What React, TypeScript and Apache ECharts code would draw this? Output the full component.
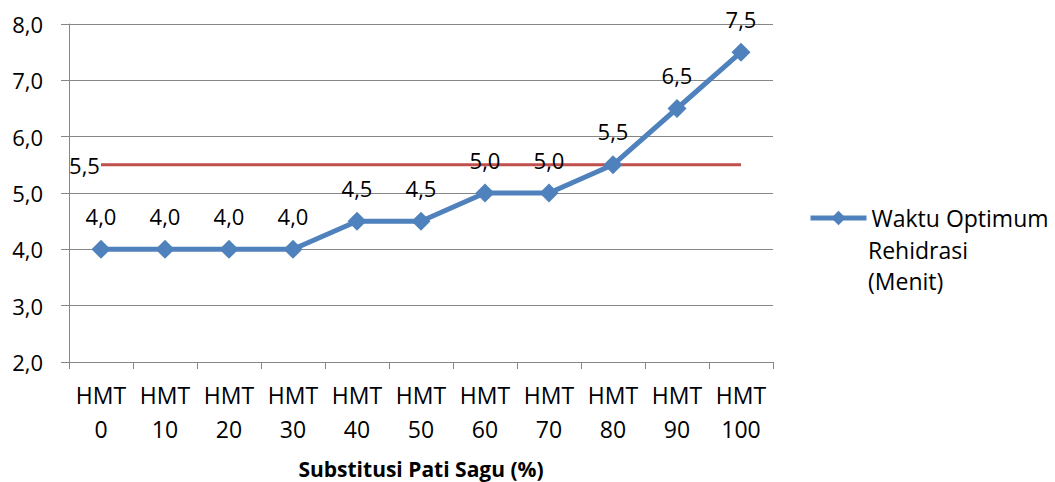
import React, { useEffect, useRef } from "react";
import * as echarts from "echarts";

const categories = ["HMT\n0", "HMT\n10", "HMT\n20", "HMT\n30", "HMT\n40", "HMT\n50", "HMT\n60", "HMT\n70", "HMT\n80", "HMT\n90", "HMT\n100"];
const waktuValues = [4.0, 4.0, 4.0, 4.0, 4.5, 4.5, 5.0, 5.0, 5.5, 6.5, 7.5];
const referenceValue = 5.5;
const seriesName = "Waktu Optimum";
const legendExtraLines = ["Rehidrasi", "(Menit)"];
const xAxisName = "Substitusi Pati Sagu (%)";

const FONT = "'Open Sans', sans-serif";
const FS = 23;
const fmt = (v: number) => v.toFixed(1).replace(".", ",");

export default function App() {
  const ref = useRef<HTMLDivElement>(null);
  useEffect(() => {
    if (!ref.current) return;
    const chart = echarts.init(ref.current, null, { renderer: "svg" });
    const refData = categories.map((_, i) =>
      i === 0
        ? { value: referenceValue, label: { show: true } }
        : { value: referenceValue }
    );
    chart.setOption({
      animation: false,
      textStyle: { fontFamily: FONT },
      grid: { left: 69, right: 282, top: 24, bottom: 120, outerBoundsMode: "none", containLabel: false },
      legend: {
        data: [seriesName],
        left: 808,
        top: 204,
        padding: 0,
        itemWidth: 56,
        itemHeight: 18,
        itemGap: 4,
        lineStyle: { width: 5 },
        textStyle: {
          fontFamily: FONT,
          fontSize: FS,
          lineHeight: 28,
          color: "#000",
        },
      },
      graphic: [
        {
          type: "text",
          left: 868,
          top: 234,
          style: {
            text: legendExtraLines.join("\n"),
            fontFamily: FONT,
            fontSize: FS,
            lineHeight: 31,
            fill: "#000",
          },
        },
      ],
      xAxis: {
        type: "category",
        data: categories,
        boundaryGap: true,
        axisLine: { lineStyle: { color: "#868686", width: 1 } },
        axisTick: { show: true, length: 7, lineStyle: { color: "#868686" } },
        axisLabel: {
          fontFamily: FONT,
          fontSize: FS,
          color: "#000",
          lineHeight: 34,
          margin: 16,
          interval: 0,
        },
        name: xAxisName,
        nameLocation: "middle",
        nameGap: 96,
        nameTextStyle: { fontFamily: FONT, fontSize: 21, lineHeight: 22, fontWeight: "bold", color: "#000" },
      },
      yAxis: {
        type: "value",
        min: 2,
        max: 8,
        interval: 1,
        axisLine: { show: true, lineStyle: { color: "#868686", width: 1 } },
        axisTick: { show: true, length: 8, lineStyle: { color: "#868686" } },
        splitLine: { lineStyle: { color: "#868686", width: 1 } },
        axisLabel: {
          fontFamily: FONT,
          fontSize: 22,
          color: "#000",
          margin: 26,
          formatter: (v: number) => fmt(v),
        },
      },
      series: [
        {
          name: "Batas",
          type: "line",
          data: refData,
          symbol: "circle",
          symbolSize: 0.1,
          showSymbol: true,
          lineStyle: { color: "#C0504D", width: 3 },
          itemStyle: { color: "#C0504D" },
          label: {
            show: false,
            position: "left",
            distance: 1,
            fontFamily: FONT,
            fontSize: 22,
            color: "#000",
            formatter: (p: any) => fmt(p.value),
          },
          z: 2,
        },
        {
          name: seriesName,
          type: "line",
          data: waktuValues,
          symbol: "diamond",
          symbolSize: 19,
          lineStyle: { color: "#4F81BD", width: 5 },
          itemStyle: { color: "#4F81BD" },
          label: {
            show: true,
            position: "top",
            distance: 13,
            fontFamily: FONT,
            fontSize: 22,
            color: "#000",
            formatter: (p: any) => fmt(p.value),
          },
          z: 3,
        },
      ],
    });
    return () => chart.dispose();
  }, []);
  return <div ref={ref} style={{ width: 1055, height: 482, position: "absolute", left: 0, top: 0 }} />;
}
